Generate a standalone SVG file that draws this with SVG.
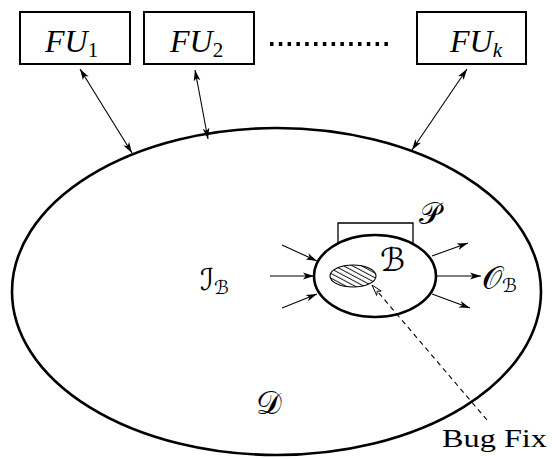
<svg xmlns="http://www.w3.org/2000/svg" width="552" height="459" viewBox="0 0 552 459">
<style>
.box{fill:#fff;stroke:#000;stroke-width:2}
.fu{font-family:"Liberation Serif",serif;font-style:italic;font-size:32px;fill:#000}
.sub{font-style:normal;font-size:21px}
.subk{font-style:italic;font-size:21px}
.cal{font-family:"DejaVu Serif","DejaVu Sans","Noto Sans",serif;fill:#000}
.arr{fill:none;stroke:#000;stroke-width:1.1}
.thick{fill:none;stroke:#000;stroke-width:2.6}
.lbl{font-family:"Liberation Serif",serif;font-size:25px;fill:#000}
</style>
<defs>
<marker id="ah" markerUnits="userSpaceOnUse" markerWidth="12" markerHeight="8" refX="11" refY="4" orient="auto-start-reverse" viewBox="0 0 12 8">
<path d="M0,0.6 L11,4 L0,7.4 L2.8,4 z" fill="#000"/>
</marker>
<marker id="ao" markerUnits="userSpaceOnUse" markerWidth="12" markerHeight="8" refX="11" refY="4" orient="auto" viewBox="0 0 12 8">
<path d="M0,0.8 L11,4 L0,7.2 L3,4 z" fill="#fff" stroke="#000" stroke-width="0.9"/>
</marker>
<pattern id="hatch" patternUnits="userSpaceOnUse" width="6" height="4.2" patternTransform="rotate(28)">
<line x1="0" y1="2" x2="6" y2="2" stroke="#000" stroke-width="0.9"/>
</pattern>
</defs>

<g id="domain-D">
<ellipse cx="276.5" cy="291.5" rx="264.5" ry="163.5" class="thick"/>
<text class="cal" x="256" y="414" font-size="32">𝒟</text>
</g>

<g id="fu1">
<rect x="20" y="12" width="110" height="52" class="box"/>
<text class="fu" x="45" y="52">FU<tspan class="sub" dy="5">1</tspan></text>
</g>
<g id="fu2">
<rect x="144" y="12" width="110" height="52" class="box"/>
<text class="fu" x="170" y="52">FU<tspan class="sub" dy="5">2</tspan></text>
</g>
<g id="dots">
<line x1="270" y1="44" x2="392" y2="44" stroke="#000" stroke-width="4" stroke-dasharray="3.5 5.3"/>
</g>
<g id="fuk">
<rect x="417" y="12" width="109" height="52" class="box"/>
<text class="fu" x="450" y="52">FU<tspan class="subk" dy="5">k</tspan></text>
</g>

<g id="program-P">
<path d="M338,250 V223 H413 V250" fill="none" stroke="#000" stroke-width="1.3"/>
<text class="cal" x="419" y="224" font-size="30">𝒫</text>
</g>

<g id="bug-B">
<ellipse cx="375" cy="276" rx="61" ry="41" fill="#fff" stroke="#000" stroke-width="2.6"/>
<text class="cal" x="380" y="271" font-size="32">ℬ</text>
</g>

<g id="fix">
<ellipse cx="353" cy="276" rx="23" ry="11" fill="url(#hatch)" stroke="#000" stroke-width="1.1"/>
</g>

<g id="input-I">
<text class="cal" x="200" y="290" font-size="30">ℐ<tspan font-size="19" dy="4">ℬ</tspan></text>
</g>
<g id="output-O">
<text class="cal" x="482" y="289" font-size="32">𝒪<tspan font-size="19" dy="3">ℬ</tspan></text>
</g>

<g id="bugfix-label">
<text class="lbl" x="442" y="447" textLength="105" lengthAdjust="spacingAndGlyphs">Bug Fix</text>
</g>

<g id="connectors">
<line x1="80" y1="69" x2="132" y2="153" class="arr" marker-start="url(#ah)" marker-end="url(#ah)"/>
<line x1="195" y1="70" x2="208" y2="139" class="arr" marker-start="url(#ah)" marker-end="url(#ah)"/>
<line x1="467" y1="69" x2="412" y2="150" class="arr" marker-start="url(#ah)" marker-end="url(#ah)"/>
<line x1="282" y1="245" x2="317" y2="261" class="arr" marker-end="url(#ah)"/>
<line x1="270" y1="276" x2="314" y2="276" class="arr" marker-end="url(#ah)"/>
<line x1="282" y1="308" x2="317" y2="294" class="arr" marker-end="url(#ah)"/>
<line x1="432" y1="256" x2="468" y2="243" class="arr" marker-end="url(#ah)"/>
<line x1="436" y1="276" x2="481" y2="276" class="arr" marker-end="url(#ah)"/>
<line x1="432" y1="294" x2="470" y2="308" class="arr" marker-end="url(#ah)"/>
<line x1="487" y1="420" x2="372" y2="285" class="arr" stroke-dasharray="5 4" marker-end="url(#ao)"/>
</g>
</svg>
